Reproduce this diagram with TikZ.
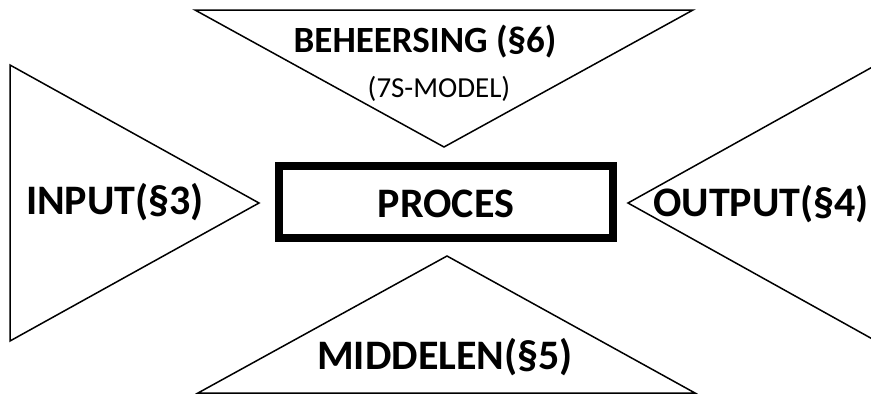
\documentclass[tikz,border=0pt]{standalone}
\usepackage{fontspec}
\setmainfont{Carlito}
\usetikzlibrary{positioning}

\begin{document}
\begin{tikzpicture}[x=1pt, y=-1pt,
  wedge/.style={draw, line width=1.5pt, line join=miter},
  big/.style={font=\fontsize{42}{48}\selectfont\bfseries, inner sep=0pt, anchor=base}]

\useasboundingbox (0,0) rectangle (871,394);
\clip (0,0) rectangle (871,394);

% Beheersing (boven)
\draw[wedge] (195,10) -- (693,10) -- (444,147) -- cycle;
\node[big, font=\fontsize{37}{44}\selectfont\bfseries] (beheersing) at (425,52) {BEHEERSING (§6)};
\node[inner sep=0pt, anchor=base, font=\fontsize{29}{34}\selectfont] (model) at (439,97) {(7S-MODEL)};

% Input (links)
\draw[wedge] (10,65) -- (10,341) -- (259,203) -- cycle;
\node[big] (input) at (115,214) {INPUT(§3)};

% Output (rechts)
\draw[wedge] (885,60) -- (628,203) -- (885,346);
\node[big] (output) at (761,216) {OUTPUT(§4)};

% Middelen (onder)
\draw[wedge] (447,256) -- (695,393) -- (198,393) -- cycle;
\node[big] (middelen) at (445,369) {MIDDELEN(§5)};

% Proces
\draw[line width=8pt] (279,166) rectangle (613,238);
\node[big] (proces) at (446,217) {PROCES};

\end{tikzpicture}
\end{document}
